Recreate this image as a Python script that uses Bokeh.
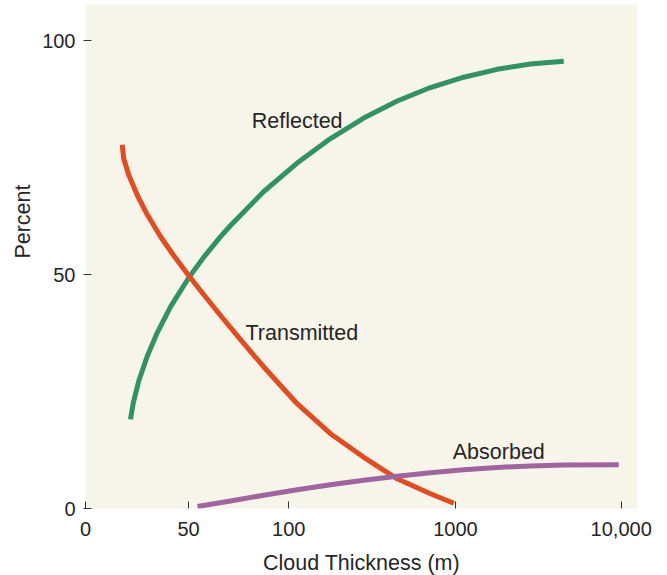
from bokeh.plotting import figure
from bokeh.models import Title, FixedTicker
from bokeh.core.properties import value
from bokeh.embed import file_html
from bokeh.resources import INLINE

# x values are positions on the chart's non-uniform thickness axis
TICK_POS = [0, 1.01, 1.993, 3.627, 5.252]
TICK_LABELS = ["0", "50", "100", "1000", "10,000"]
Y_TICKS = [0, 50, 100]

trans_x = [0.360, 0.375, 0.425, 0.507, 0.605, 0.735, 0.866, 1.017, 1.160, 1.324,
           1.520, 1.748, 2.075, 2.402, 2.728, 3.056, 3.382, 3.611]
trans_y = [77.71, 74.72, 71.20, 66.99, 62.82, 58.12, 54.00, 49.62, 45.66, 41.24,
           36.07, 30.24, 22.39, 15.98, 10.94, 6.35, 3.14, 1.13]

refl_x = [0.441, 0.468, 0.523, 0.605, 0.703, 0.833, 1.017, 1.160, 1.324, 1.422,
          1.748, 2.075, 2.402, 2.728, 3.056, 3.382, 3.709, 4.036, 4.363, 4.689]
refl_y = [19.06, 22.52, 27.31, 32.52, 37.54, 43.08, 49.47, 53.72, 58.08, 60.47,
          67.74, 73.82, 79.06, 83.44, 87.07, 89.96, 92.16, 93.85, 94.98, 95.58]

abs_x = [1.098, 1.422, 1.748, 2.075, 2.402, 2.728, 3.056, 3.382, 3.709, 4.036, 4.363, 4.689, 5.228]
abs_y = [0.43, 1.62, 2.84, 4.02, 5.09, 6.05, 6.90, 7.65, 8.29, 8.78, 9.10, 9.27, 9.34]

label_text = ["Reflected", "Transmitted", "Absorbed"]
label_x = [2.075, 2.121, 4.052]
label_y = [82.9, 37.4, 12.0]

FONT = "Liberation Sans"
TXT = "#262626"
TSIZE = "21.5px"

p = figure(frame_width=552, frame_height=504, x_range=(0, 5.412), y_range=(0, 107.7),
           min_border_left=85, min_border_right=28, min_border_top=4, min_border_bottom=65,
           output_backend="svg", toolbar_location=None)
p.background_fill_color = "#f7f5e9"
p.border_fill_color = "white"
p.outline_line_color = None
p.grid.visible = False

p.line(refl_x, refl_y, line_color="#2f9462", line_width=5, line_join="round")
p.line(trans_x, trans_y, line_color="#e44b1f", line_width=5, line_join="round")
p.line(abs_x, abs_y, line_color="#a064a0", line_width=5, line_join="round")

p.text(x=label_x, y=label_y, text=label_text, text_font=value(FONT), text_font_size=TSIZE,
       text_color=TXT, text_align="center", text_baseline="middle")

xa = p.xaxis[0]
xa.ticker = FixedTicker(ticks=TICK_POS)
xa.major_label_overrides = {t: l for t, l in zip(TICK_POS, TICK_LABELS)}
xa.minor_tick_line_color = None
xa.axis_line_color = None
xa.major_tick_in = 7
xa.major_tick_out = 0
xa.major_tick_line_color = "#333333"
xa.major_label_standoff = 13
xa.major_label_text_font = FONT
xa.major_label_text_font_size = "20px"
xa.major_label_text_color = TXT
xa.axis_label = "Cloud Thickness (m)"
xa.axis_label_text_font = FONT
xa.axis_label_text_font_size = TSIZE
xa.axis_label_text_font_style = "normal"
xa.axis_label_text_color = TXT
xa.axis_label_standoff = 12

ya = p.yaxis[0]
ya.ticker = FixedTicker(ticks=Y_TICKS)
ya.minor_tick_line_color = None
ya.axis_line_color = None
ya.major_tick_in = 6
ya.major_tick_out = 2
ya.major_tick_line_color = "#333333"
ya.major_label_standoff = 8
ya.major_label_text_font = FONT
ya.major_label_text_font_size = "20px"
ya.major_label_text_color = TXT

ytitle = Title(text="Percent", align="right", offset=180, text_font=FONT,
               text_font_size=TSIZE, text_font_style="normal", text_color=TXT)
p.add_layout(ytitle, "left")

open("out.html", "w").write(file_html(p, INLINE))
